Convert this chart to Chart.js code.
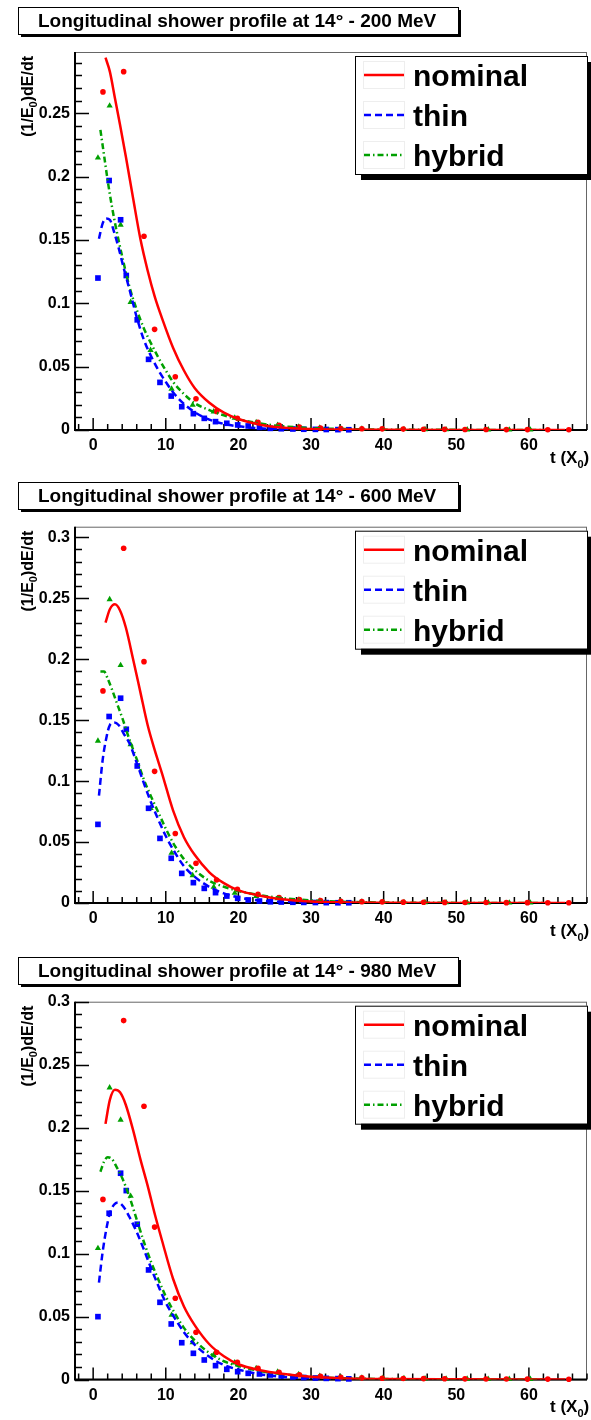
<!DOCTYPE html>
<html>
<head>
<meta charset="utf-8">
<title>Longitudinal shower profile</title>
<script src="https://cdn.jsdelivr.net/npm/chart.js@4.4.0/dist/chart.umd.min.js"></script>
<style>
  body { margin: 0; background: #fff; }
  #wrap { position: relative; width: 591px; height: 1420px; }
  canvas { position: absolute; left: 0; }
</style>
</head>
<body>
<div id="wrap">
  <canvas id="c200" width="591" height="473" style="top:0px"></canvas>
  <canvas id="c600" width="591" height="474" style="top:473px"></canvas>
  <canvas id="c980" width="591" height="473" style="top:947px"></canvas>
</div>
<script>
// values
const seriesNames = ['nominal', 'thin', 'hybrid'];
const energies = ['200 MeV', '600 MeV', '980 MeV'];
const xTicks = [0, 10, 20, 30, 40, 50, 60];
const yTicks = [0, 0.05, 0.1, 0.15, 0.2, 0.25, 0.3];

// histogram bin centres t (X0)
const nominalBins = [1.35, 4.2, 7.0, 8.46, 11.31, 14.16, 17.0, 19.86, 22.7, 25.6, 28.4, 31.3, 34.1, 37.0, 39.8, 42.7, 45.5, 48.4, 51.2, 54.1, 56.9, 59.8, 62.6, 65.5];
const thinBins = [0.66, 2.2, 3.78, 4.56, 6.07, 7.63, 9.2, 10.75, 12.2, 13.8, 15.3, 16.85, 18.4, 19.9, 21.35, 22.9, 24.4, 25.9, 27.5, 29.0, 30.6, 32.1, 33.7, 35.2];
const hybridBins = [0.66, 2.27, 3.78, 5.16, 7.9, 10.8, 13.7, 16.6, 19.5, 22.45, 25.4, 28.3, 31.2, 34.1, 37.0, 39.9, 42.8, 45.7, 48.6, 51.5, 54.4, 57.3, 60.2];

// histogram contents (1/E0)dE/dt
const nominal200 = [0.267, 0.283, 0.153, 0.0795, 0.042, 0.0247, 0.0147, 0.0092, 0.006, 0.0038, 0.0024, 0.0016, 0.0012, 0.001, 0.0009, 0.0007, 0.0006, 0.0005, 0.0004, 0.0004, 0.0003, 0.0003, 0.0002, 0.0002];
const thin200 = [0.120, 0.197, 0.166, 0.122, 0.087, 0.0558, 0.0376, 0.0268, 0.0184, 0.0129, 0.0092, 0.0066, 0.0053, 0.004, 0.0032, 0.0021, 0.0013, 0.001, 0.0008, 0.0006, 0.0005, 0.0004, 0.0003, 0.0002];
const hybrid200 = [0.215, 0.256, 0.162, 0.101, 0.063, 0.0324, 0.0197, 0.0145, 0.0095, 0.006, 0.0038, 0.0024, 0.0016, 0.0012, 0.001, 0.0008, 0.0006, 0.0005, 0.0004, 0.0003, 0.0003, 0.0002, 0.0002];

const nominal600 = [0.174, 0.291, 0.198, 0.108, 0.057, 0.0326, 0.0189, 0.0112, 0.0071, 0.0045, 0.0029, 0.002, 0.0014, 0.0011, 0.0009, 0.0007, 0.0006, 0.0005, 0.0004, 0.0004, 0.0003, 0.0003, 0.0002, 0.0002];
const thin600 = [0.0645, 0.153, 0.168, 0.1425, 0.1124, 0.0777, 0.053, 0.0367, 0.0243, 0.0167, 0.012, 0.0085, 0.0057, 0.0038, 0.0025, 0.0016, 0.001, 0.0008, 0.0006, 0.0005, 0.0004, 0.0003, 0.0002, 0.0002];
const hybrid600 = [0.133, 0.249, 0.195, 0.130, 0.0777, 0.041, 0.0227, 0.0131, 0.0082, 0.0055, 0.0038, 0.0026, 0.0018, 0.0013, 0.001, 0.0008, 0.0006, 0.0005, 0.0004, 0.0003, 0.0003, 0.0002, 0.0002];

const nominal980 = [0.143, 0.285, 0.217, 0.121, 0.0645, 0.0375, 0.0216, 0.0137, 0.0089, 0.0058, 0.0038, 0.0026, 0.0018, 0.0013, 0.001, 0.0008, 0.0007, 0.0006, 0.0005, 0.0004, 0.0004, 0.0003, 0.0003, 0.0002];
const thin980 = [0.0499, 0.132, 0.1638, 0.150, 0.1233, 0.087, 0.0613, 0.0441, 0.0292, 0.0208, 0.0155, 0.011, 0.0081, 0.0062, 0.0049, 0.0044, 0.0036, 0.0028, 0.0021, 0.0016, 0.0012, 0.0009, 0.0007, 0.0005];
const hybrid980 = [0.1042, 0.2318, 0.2061, 0.1457, 0.0883, 0.0512, 0.0295, 0.0195, 0.0134, 0.0089, 0.006, 0.004, 0.0027, 0.0019, 0.0014, 0.0011, 0.0009, 0.0007, 0.0006, 0.0005, 0.0004, 0.0004, 0.0003];

// fitted curves, sampled at these t
const nominalFitT = [1.7, 2.3, 3.0, 3.7, 4.5, 5.5, 6.5, 7.5, 8.5, 9.5, 11, 12.5, 14, 16, 18, 20, 23, 26, 30, 35, 40, 50, 65];
const thinFitT = [0.8, 1.3, 1.8, 2.3, 2.9, 3.5, 4.2, 5, 6, 7, 8, 9, 10, 11, 12.5, 14, 16, 18, 20, 23, 26, 30, 35];
const hybridFitT = [1.0, 1.5, 2.0, 2.6, 3.2, 4, 5, 6, 7, 8, 9, 10, 11, 12.5, 14, 16, 18, 20, 23, 26, 30, 35, 40, 50, 62];

const nominalFit200 = [0.294, 0.283, 0.262, 0.241, 0.216, 0.183, 0.151, 0.126, 0.105, 0.088, 0.065, 0.047, 0.033, 0.0215, 0.0137, 0.0087, 0.0042, 0.002, 0.0008, 0.0003, 0.0001, 0, 0];
const thinFit200 = [0.151, 0.163, 0.167, 0.166, 0.156, 0.144, 0.128, 0.111, 0.089, 0.071, 0.058, 0.047, 0.038, 0.0298, 0.0206, 0.014, 0.0082, 0.0048, 0.0029, 0.0013, 0.0006, 0.0002, 0.0001];
const hybridFit200 = [0.237, 0.217, 0.197, 0.176, 0.158, 0.137, 0.113, 0.095, 0.080, 0.068, 0.057, 0.047, 0.038, 0.0284, 0.0211, 0.0157, 0.0116, 0.0085, 0.0051, 0.003, 0.0015, 0.0007, 0.0003, 0.0001, 0];

const nominalFit600 = [0.230, 0.241, 0.245, 0.240, 0.226, 0.200, 0.173, 0.146, 0.125, 0.106, 0.076, 0.054, 0.0393, 0.0252, 0.0163, 0.0103, 0.006, 0.0031, 0.0013, 0.0005, 0.0002, 0, 0];
const thinFit600 = [0.088, 0.117, 0.135, 0.146, 0.148, 0.146, 0.139, 0.131, 0.115, 0.098, 0.082, 0.068, 0.055, 0.044, 0.0302, 0.0214, 0.0132, 0.0079, 0.0046, 0.002, 0.0009, 0.0003, 0.0001];
const hybridFit600 = [0.190, 0.190, 0.184, 0.175, 0.165, 0.152, 0.134, 0.118, 0.101, 0.087, 0.074, 0.061, 0.0494, 0.036, 0.0269, 0.0182, 0.0133, 0.0099, 0.0064, 0.0041, 0.0021, 0.0009, 0.0004, 0.0001, 0];

const nominalFit980 = [0.203, 0.222, 0.230, 0.228, 0.218, 0.198, 0.175, 0.154, 0.131, 0.110, 0.080, 0.058, 0.043, 0.028, 0.0185, 0.0121, 0.0073, 0.0045, 0.0021, 0.0008, 0.0003, 0.0001, 0];
const thinFit980 = [0.077, 0.101, 0.119, 0.132, 0.139, 0.1405, 0.137, 0.129, 0.117, 0.103, 0.088, 0.074, 0.061, 0.051, 0.0375, 0.0275, 0.018, 0.0115, 0.0079, 0.0042, 0.0022, 0.0009, 0.0003];
const hybridFit980 = [0.165, 0.173, 0.1765, 0.175, 0.169, 0.160, 0.145, 0.127, 0.109, 0.093, 0.079, 0.066, 0.055, 0.041, 0.031, 0.021, 0.0145, 0.0107, 0.0068, 0.0043, 0.0022, 0.0009, 0.0004, 0.0001, 0];

const FONT = '"Liberation Sans", Arial, Helvetica, sans-serif';
const colors = ['#ff0000', '#0000ff', '#00a000'];
const dashes = [[], [7, 4], [6, 3, 1.5, 3]];
const markerStyles = ['circle', 'rect', 'triangle'];
const markerSizes = [2.8, 4, 3.6];

Chart.defaults.font.family = FONT;

const panels = [
    { id: 'c200', energy: energies[0], yMax: 0.2985, plotTop: 52, plotBottom: 430, titleTop: 7,
      hist: [nominal200, thin200, hybrid200], fits: [nominalFit200, thinFit200, hybridFit200] },
    { id: 'c600', energy: energies[1], yMax: 0.3087, plotTop: 53.7, plotBottom: 430, titleTop: 9,
      hist: [nominal600, thin600, hybrid600], fits: [nominalFit600, thinFit600, hybridFit600] },
    { id: 'c980', energy: energies[2], yMax: 0.3, plotTop: 54.7, plotBottom: 432.5, titleTop: 10,
      hist: [nominal980, thin980, hybrid980], fits: [nominalFit980, thinFit980, hybridFit980] }
];

const bins = [nominalBins, thinBins, hybridBins];
const fitT = [nominalFitT, thinFitT, hybridFitT];

function toPoints(xs, ys) {
    return xs.map((x, i) => ({ x: x, y: ys[i] }));
}

// frame, axes and inward ROOT-like ticks
const rootFrame = {
    id: 'rootFrame',
    beforeDatasetsDraw(chart) {
        const ctx = chart.ctx;
        const area = chart.chartArea;
        const xs = chart.scales.x, ys = chart.scales.y;
        ctx.save();
        ctx.strokeStyle = '#666';
        ctx.lineWidth = 1;
        ctx.strokeRect(area.left, area.top + 0.5, area.right - area.left - 0.5, area.bottom - area.top);

        ctx.strokeStyle = '#000';
        ctx.lineWidth = 2;
        ctx.beginPath();
        ctx.moveTo(area.left, area.top);
        ctx.lineTo(area.left, area.bottom);
        ctx.lineTo(area.right, area.bottom);
        ctx.stroke();

        ctx.lineWidth = 1.5;
        ctx.beginPath();
        for (let v = -2; v <= xs.max; v += 2) {
            const px = xs.getPixelForValue(v);
            const len = v % 10 === 0 ? 12 : 6;
            ctx.moveTo(px, area.bottom);
            ctx.lineTo(px, area.bottom - len);
        }
        for (let i = 0; i * 0.01 <= ys.max + 1e-9; i++) {
            const py = Math.round(ys.getPixelForValue(i * 0.01)) + 0.5;
            const len = i % 5 === 0 ? 14 : 7;
            ctx.moveTo(area.left, py);
            ctx.lineTo(area.left + len, py);
        }
        ctx.stroke();
        ctx.restore();
    }
};

// title pave, legend and axis titles
const rootDecor = {
    id: 'rootDecor',
    afterDraw(chart, args, opts) {
        const ctx = chart.ctx;
        const area = chart.chartArea;
        ctx.save();

        // title box with shadow
        const tb = opts.titleTop;
        ctx.fillStyle = '#000';
        ctx.fillRect(21, tb + 3, 440, 27);
        ctx.fillStyle = '#fff';
        ctx.fillRect(18, tb, 440, 27);
        ctx.strokeStyle = '#000';
        ctx.lineWidth = 1;
        ctx.strokeRect(18.5, tb + 0.5, 440, 27);
        ctx.fillStyle = '#000';
        ctx.font = 'bold 19px ' + FONT;
        ctx.textAlign = 'left';
        ctx.textBaseline = 'alphabetic';
        ctx.fillText(opts.title, 38, tb + 20);

        // legend box
        const lx = 355, ly = area.top + 4, lw = 232, lh = 118;
        ctx.fillStyle = '#000';
        ctx.fillRect(lx + 6, ly + 6, lw, lh);
        ctx.fillStyle = '#fff';
        ctx.fillRect(lx, ly, lw, lh);
        ctx.strokeStyle = '#000';
        ctx.strokeRect(lx + 0.5, ly + 0.5, lw, lh);
        seriesNames.forEach((name, i) => {
            const ry = ly + 19 + 40 * i;
            ctx.strokeStyle = '#eee';
            ctx.lineWidth = 1;
            ctx.setLineDash([]);
            ctx.strokeRect(363.5, ry - 13.5, 41, 27);
            ctx.strokeStyle = colors[i];
            ctx.lineWidth = 2.5;
            ctx.setLineDash(dashes[i]);
            ctx.beginPath();
            ctx.moveTo(364, ry);
            ctx.lineTo(404, ry);
            ctx.stroke();
            ctx.setLineDash([]);
            ctx.fillStyle = '#000';
            ctx.font = 'bold 30px ' + FONT;
            ctx.fillText(name, 413, ry + 11);
        });

        // y axis title (1/E0)dE/dt
        const big = 'bold 16px ' + FONT, small = 'bold 11px ' + FONT;
        ctx.save();
        ctx.translate(33, area.top + 4);
        ctx.rotate(-Math.PI / 2);
        ctx.font = big;
        const w1 = ctx.measureText('(1/E').width;
        const w3 = ctx.measureText(')dE/dt').width;
        ctx.font = small;
        const w2 = ctx.measureText('0').width;
        const x0 = -(w1 + w2 + w3);
        ctx.font = big;
        ctx.fillText('(1/E', x0, 0);
        ctx.font = small;
        ctx.fillText('0', x0 + w1, 4);
        ctx.font = big;
        ctx.fillText(')dE/dt', x0 + w1 + w2, 0);
        ctx.restore();

        // x axis title t (X0)
        const bx = 550, by = area.bottom + 32.5;
        ctx.font = 'bold 17px ' + FONT;
        const wa = ctx.measureText('t (X').width;
        ctx.fillText('t (X', bx, by);
        ctx.font = small;
        const wb = ctx.measureText('0').width;
        ctx.fillText('0', bx + wa, by + 5);
        ctx.font = 'bold 17px ' + FONT;
        ctx.fillText(')', bx + wa + wb, by);

        ctx.restore();
    }
};

function makeChart(p) {
    const canvas = document.getElementById(p.id);
    const H = canvas.height;

    const datasets = [];
    // fitted curves first so they sit on top of the markers
    seriesNames.forEach((name, i) => {
        datasets.push({
            label: name + ' fit',
            data: toPoints(fitT[i], p.fits[i]),
            showLine: true,
            borderColor: colors[i],
            borderWidth: 2.5,
            borderDash: dashes[i],
            pointRadius: 0,
            tension: 0.3,
            cubicInterpolationMode: 'monotone',
            fill: false
        });
    });
    seriesNames.forEach((name, i) => {
        datasets.push({
            label: name,
            data: toPoints(bins[i], p.hist[i]),
            showLine: false,
            pointStyle: markerStyles[i],
            pointRadius: markerSizes[i],
            pointBorderWidth: 0,
            pointBackgroundColor: colors[i],
            pointBorderColor: colors[i],
            clip: false
        });
    });

    new Chart(canvas, {
        type: 'scatter',
        data: { datasets: datasets },
        options: {
            responsive: false,
            animation: false,
            devicePixelRatio: 1,
            events: [],
            layout: { padding: { left: 0, right: 3, top: p.plotTop, bottom: 0 } },
            plugins: {
                legend: { display: false },
                tooltip: { enabled: false },
                title: { display: false },
                rootDecor: { title: 'Longitudinal shower profile at 14\u00b0 - ' + p.energy, titleTop: p.titleTop }
            },
            scales: {
                x: {
                    type: 'linear',
                    position: 'bottom',
                    min: -2.5,
                    max: 68,
                    grid: { display: false, drawTicks: false },
                    border: { display: false },
                    afterBuildTicks: axis => { axis.ticks = xTicks.map(v => ({ value: v })); },
                    afterFit: axis => { axis.height = H - p.plotBottom; },
                    ticks: {
                        autoSkip: false,
                        maxRotation: 0,
                        padding: 6,
                        color: '#000',
                        font: { size: 16, weight: 'bold' },
                        callback: v => String(v)
                    }
                },
                y: {
                    type: 'linear',
                    min: 0,
                    max: p.yMax,
                    grid: { display: false, drawTicks: false },
                    border: { display: false },
                    afterBuildTicks: axis => {
                        axis.ticks = yTicks.filter(v => v <= p.yMax + 1e-9).map(v => ({ value: v }));
                    },
                    afterFit: axis => { axis.width = 75; },
                    ticks: {
                        autoSkip: false,
                        padding: 5,
                        color: '#000',
                        font: { size: 16, weight: 'bold' },
                        callback: v => (v === 0 ? '0' : String(+v.toFixed(2)))
                    }
                }
            }
        },
        plugins: [rootFrame, rootDecor]
    });
}

panels.forEach(makeChart);
</script>
</body>
</html>
